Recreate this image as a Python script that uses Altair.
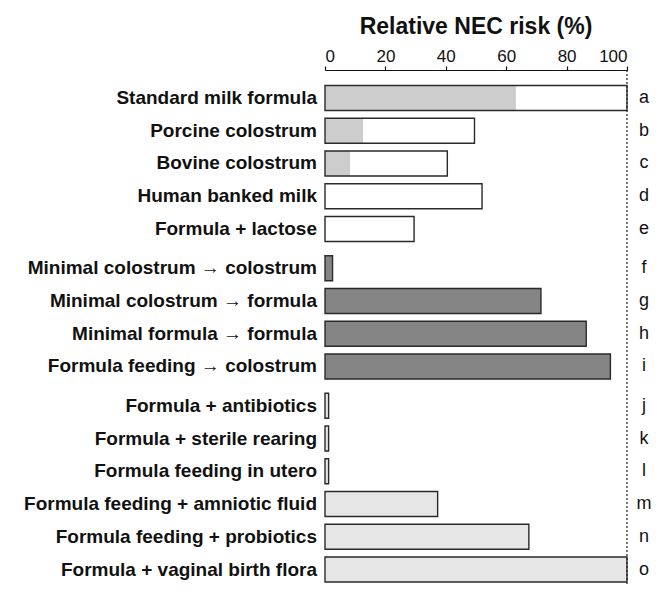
import altair as alt
import pandas as pd

labels = [
    "Standard milk formula",
    "Porcine colostrum",
    "Bovine colostrum",
    "Human banked milk",
    "Formula + lactose",
    "Minimal colostrum \u2192 colostrum",
    "Minimal colostrum \u2192 formula",
    "Minimal formula \u2192 formula",
    "Formula feeding \u2192 colostrum",
    "Formula + antibiotics",
    "Formula + sterile rearing",
    "Formula feeding in utero",
    "Formula feeding + amniotic fluid",
    "Formula feeding + probiotics",
    "Formula + vaginal birth flora",
]
risk = [100, 49.5, 40.5, 52, 29.5, 2.5, 71.5, 86.5, 94.5, 1.2, 1.2, 1.2, 37.3, 67.5, 100]
hatched = [63.2, 12.6, 8.3, 0, 0, 0, 0, 0, 0, 0, 0, 0, 0, 0, 0]
group = [0] * 5 + [1] * 4 + [2] * 6
kind = ["open"] * 5 + ["dark"] * 4 + ["light"] * 6
letters = list("abcdefghijklmno")
ticks = [0, 20, 40, 60, 80, 100]

df = pd.DataFrame({
    "label": labels,
    "risk": risk,
    "hatched": hatched,
    "kind": kind,
    "letter": letters,
    "pos": [i + 0.2 * g for i, g in enumerate(group)],
})

W, H = 302, 516
FONT = "Liberation Sans"

yenc = alt.Y("pos:Q", scale=alt.Scale(domain=[-0.7, 14.75], reverse=True, nice=False, zero=False), axis=None)
xscale = alt.Scale(domain=[0, 100], nice=False)
xaxis = alt.Axis(orient="top", values=ticks, title=None, grid=False, labelFontSize=17,
                 labelPadding=1, tickSize=4, domainColor="#111", tickColor="#111",
                 labelColor="#111", labelFont=FONT, domainWidth=1.2, tickWidth=1.2)

base = alt.Chart(df)

fills = base.mark_bar(orient="horizontal", size=25, strokeWidth=0).encode(
    x=alt.X("risk:Q", scale=xscale, axis=xaxis),
    y=yenc,
    fill=alt.Fill("kind:N", scale=alt.Scale(domain=["open", "dark", "light"],
                                            range=["#ffffff", "#858585", "#e6e6e6"]), legend=None),
)

hatch = base.transform_filter("datum.hatched > 0").mark_bar(
    orient="horizontal", size=25, color="#cdcdcd", strokeWidth=0
).encode(x=alt.X("hatched:Q", scale=xscale), y=yenc)

outline = base.mark_bar(orient="horizontal", size=25, filled=False, stroke="#2a2a2a",
                        strokeWidth=1.4).encode(x=alt.X("risk:Q", scale=xscale), y=yenc)

rule = alt.Chart(pd.DataFrame({"v": [100]})).mark_rule(
    strokeDash=[2, 2], color="#222", strokeWidth=1.2
).encode(x=alt.X("v:Q", scale=xscale), y=alt.value(0), y2=alt.value(H))

names = base.mark_text(align="right", baseline="middle", dx=-8, fontSize=19,
                       fontWeight="bold", font=FONT, color="#111").encode(
    x=alt.value(0), y=yenc, text="label:N")

lets = base.mark_text(align="center", baseline="middle", fontSize=18, font=FONT,
                      color="#111").encode(x=alt.value(319), y=yenc, text="letter:N")

chart = alt.layer(fills, hatch, outline, rule, names, lets).properties(
    width=W, height=H,
    title=alt.TitleParams("Relative NEC risk (%)", fontSize=23, fontWeight="bold",
                          font=FONT, color="#111", anchor="middle", offset=8),
    autosize=alt.AutoSizeParams(type="none"),
    padding={"left": 317, "top": 62, "right": 25, "bottom": 0},
).configure_view(stroke=None)

chart.save("out.html", embed_options={"renderer": "svg", "actions": False})
